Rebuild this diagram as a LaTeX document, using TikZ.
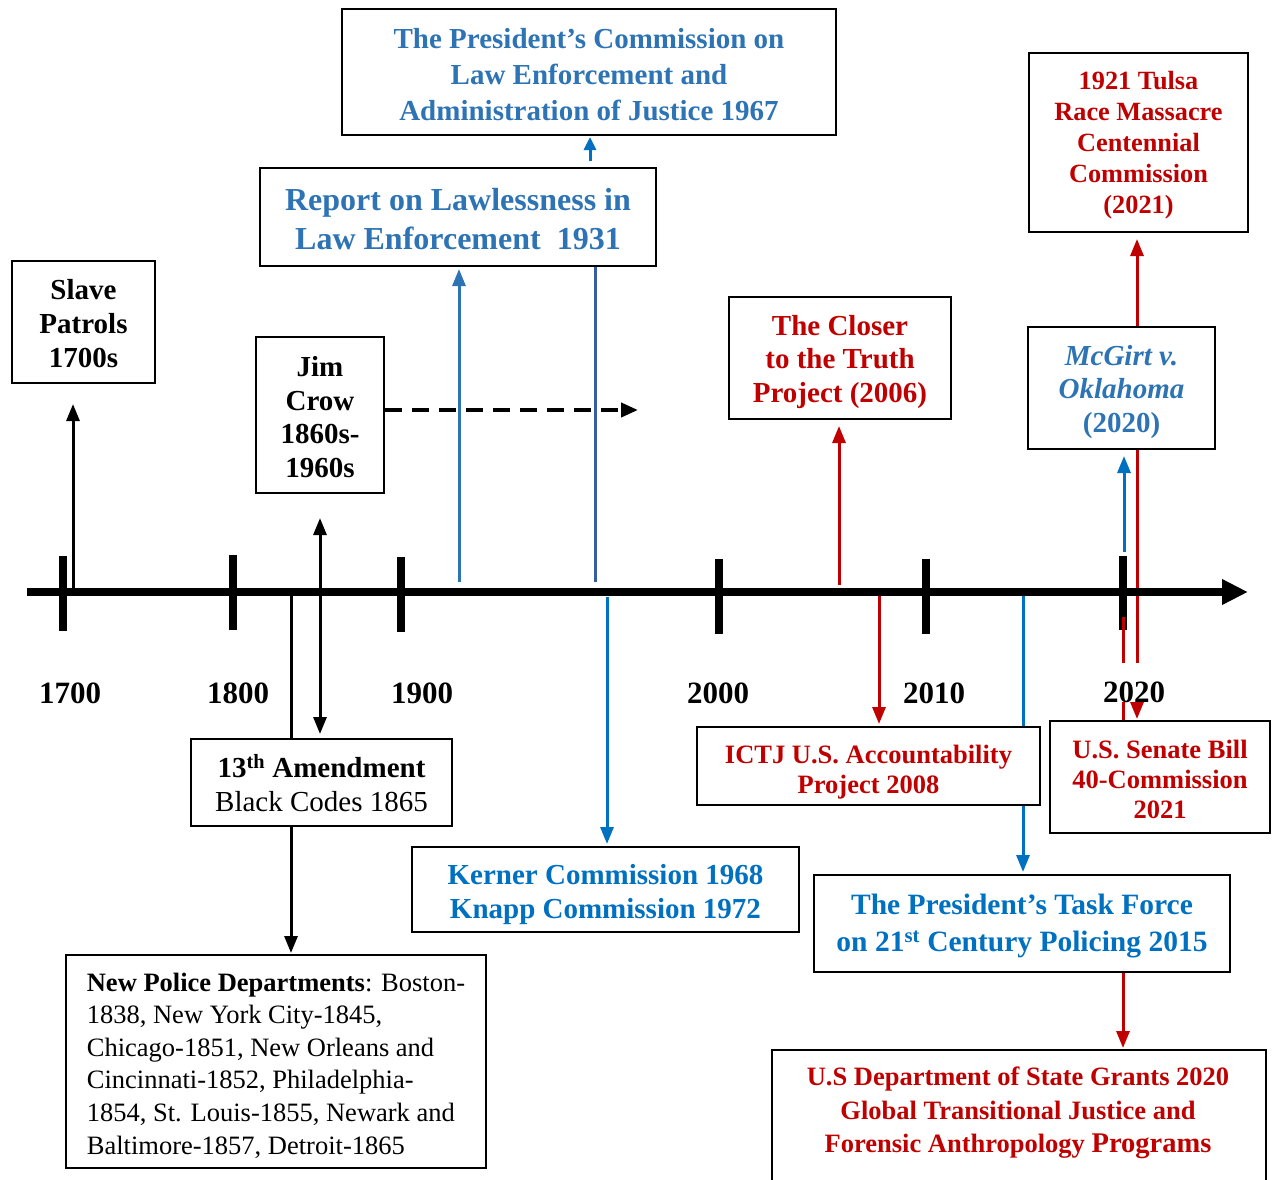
\documentclass[tikz,border=0pt]{standalone}
\usepackage{fontspec}
\setmainfont{Liberation Serif}
\usetikzlibrary{arrows.meta,calc}
\definecolor{blueA}{HTML}{2E74B5}
\definecolor{blueB}{HTML}{0070C0}
\definecolor{blueD}{HTML}{385D9E}
\definecolor{redC}{HTML}{C00000}
\pgfdeclarelayer{ticklayer}
\pgfdeclarelayer{connlayer}
\pgfdeclarelayer{axislayer}
\pgfsetlayers{ticklayer,connlayer,axislayer,main}
\tikzset{
  box/.style={draw=black, line width=2pt, fill=white, inner sep=0pt},
  txt/.style={inner sep=0pt, align=center},
  conn/.style={line width=3pt},
  tipA/.style={-{Triangle[length=17pt,width=13pt]}},
  tipB/.style={{Triangle[length=17pt,width=13pt]}-{Triangle[length=17pt,width=13pt]}},
  tickmark/.style={line width=8pt},
  year/.style={font=\bfseries\fontsize{31}{36}\selectfont, inner sep=0pt, anchor=base},
  f29/.style={font=\bfseries\fontsize{29}{34}\selectfont},
}
\begin{document}
\begin{tikzpicture}[x=1pt,y=-1pt]
\useasboundingbox (0,0) rectangle (1272,1179);

% ---------- boxes ----------
\node[box, minimum width=143pt, minimum height=122pt] (slave) at (83.5,322) {};
\node[txt, f29] (slaveT) at ($(slave.center)+(0,2)$) {Slave\\Patrols\\1700s};

\node[box, minimum width=128pt, minimum height=156pt] (jim) at (320,415) {};
\node[txt, font=\bfseries\fontsize{29}{33.5}\selectfont] (jimT) at ($(jim.center)+(0,2)$) {Jim\\Crow\\1860s-\\1960s};

\node[box, minimum width=396pt, minimum height=98pt] (report) at (458,217) {};
\node[txt, text=blueA, font=\bfseries\fontsize{32}{39}\selectfont] (reportT) at ($(report.center)+(0,2)$) {Report on Lawlessness in\\Law Enforcement\ \ 1931};

\node[box, minimum width=494pt, minimum height=126pt] (comm) at (589,72) {};
\node[txt, text=blueA, font=\bfseries\fontsize{29}{36}\selectfont] (commT) at ($(comm.center)+(0,3)$) {The President’s Commission on\\Law Enforcement and\\Administration of Justice 1967};

\node[box, minimum width=222pt, minimum height=122pt] (closer) at (840,358) {};
\node[txt, text=redC, font=\bfseries\fontsize{29}{33.5}\selectfont] (closerT) at ($(closer.center)+(0,4)$) {The Closer\\to the Truth\\Project (2006)};

\node[box, minimum width=187pt, minimum height=122pt] (mcgirt) at (1121.5,388) {};
\node[txt, text=blueA, font=\bfseries\fontsize{29}{33.5}\selectfont] (mcgirtT) at ($(mcgirt.center)+(0,4)$) {\textit{McGirt v.}\\\textit{Oklahoma}\\(2020)};

\node[box, minimum width=219pt, minimum height=179pt] (tulsa) at (1138.5,142.5) {};
\node[txt, text=redC, font=\bfseries\fontsize{26.3}{31}\selectfont] (tulsaT) at ($(tulsa.center)+(0,3)$) {1921 Tulsa\\Race Massacre\\Centennial\\Commission\\(2021)};

\node[box, minimum width=261pt, minimum height=87pt] (amend) at (321.5,782.5) {};
\node[txt, font=\fontsize{29}{34}\selectfont] (amendT) at ($(amend.center)+(0,1)$) {\textbf{13\textsuperscript{th} Amendment}\\Black Codes 1865};

\node[box, minimum width=420pt, minimum height=213pt] (police) at (276,1061.5) {};
\node[txt, align=left, font=\fontsize{26.5}{32.6}\selectfont] (policeT) at ($(police.center)+(0,4)$) {\textbf{New Police Departments}: Boston-\\1838, New York City-1845,\\Chicago-1851, New Orleans and\\Cincinnati-1852, Philadelphia-\\1854, St. Louis-1855, Newark and\\Baltimore-1857, Detroit-1865};

\node[box, minimum width=387pt, minimum height=85pt] (kerner) at (605.5,889.5) {};
\node[txt, text=blueB, f29] (kernerT) at ($(kerner.center)+(0,5)$) {Kerner Commission 1968\\Knapp Commission 1972};

\node[box, minimum width=343pt, minimum height=78pt] (ictj) at (868.5,766) {};
\node[txt, text=redC, font=\bfseries\fontsize{26.5}{30}\selectfont] (ictjT) at ($(ictj.center)+(0,6)$) {ICTJ U.S. Accountability\\Project 2008};

\node[box, minimum width=220pt, minimum height=112pt] (senate) at (1160,777) {};
\node[txt, text=redC, font=\bfseries\fontsize{26.5}{30}\selectfont] (senateT) at ($(senate.center)+(0,2)$) {U.S. Senate Bill\\40-Commission\\2021};

\node[box, minimum width=416pt, minimum height=97pt] (task) at (1022,923.5) {};
\node[txt, text=blueB, font=\bfseries\fontsize{29.5}{37}\selectfont] (taskT) at ($(task.center)+(0,3)$) {The President’s Task Force\\on 21\textsuperscript{st} Century Policing 2015};

\node[box, minimum width=494pt, minimum height=150pt, anchor=north west] (dept) at (771,1049) {};
\node[txt, text=redC, font=\bfseries\fontsize{26.5}{33.5}\selectfont] (deptT) at (1018,1113) {U.S Department of State Grants 2020\\Global Transitional Justice and\\Forensic Anthropology {\fontsize{28.5}{33.5}\selectfont Programs}};

% ---------- year labels ----------
\node[year] (y1700) at (70,703) {1700};
\node[year] (y1800) at (238,703) {1800};
\node[year] (y1900) at (422,703) {1900};
\node[year] (y2000) at (718,703) {2000};
\node[year] (y2010) at (934,703) {2010};
\node[year, fill=white, text height=39pt, text depth=0pt, inner xsep=1pt] (y2020) at (1134,702) {2020};

% ---------- free ends ----------
\coordinate (axL) at (27,592);
\coordinate (axR) at (1248,592);
\coordinate (cSlave) at (73,590);
\coordinate (cPolice) at (291,596);
\coordinate (cDash) at (638,410);
\coordinate (cRep) at (459,582);
\coordinate (cRepD) at (595,582);
\coordinate (cComm) at (590,0);
\coordinate (cKern) at (607,597);
\coordinate (cClos) at (839,585);
\coordinate (cIctj) at (879,595);
\coordinate (cTask) at (1023,590);
\coordinate (cMcg) at (1124,552);
\coordinate (cRedA) at (1137,0);
\coordinate (cRedB) at (1123,617);

% ---------- ticks ----------
\begin{pgfonlayer}{ticklayer}
\draw[tickmark] (63,556) -- (63,631);
\draw[tickmark] (233,555) -- (233,630);
\draw[tickmark] (401,557) -- (401,632);
\draw[tickmark] (719,559) -- (719,634);
\draw[tickmark] (926,559) -- (926,634);
\draw[tickmark] (1123,556) -- (1123,630);
\end{pgfonlayer}

% ---------- connectors ----------
\begin{pgfonlayer}{connlayer}
\draw[conn, tipA, shorten >=20pt] (cSlave) -- (cSlave |- slave.south);
\draw[conn, tipB, shorten <=24pt, shorten >=4pt] (jim.south) -- (jim.south |- amend.north);
\draw[conn, tipA, shorten >=1pt] (cPolice) -- (cPolice |- police.north);
\draw[line width=4pt, dash pattern=on 17pt off 10pt, -{Triangle[length=17pt,width=14pt]}] (jim.east |- cDash) -- (cDash);
\draw[conn, blueA, tipA, shorten >=2pt] (cRep) -- (cRep |- report.south);
\draw[conn, blueD] (cRepD) -- (cRepD |- report.south);
\draw[conn, blueB, -{Triangle[length=13pt,width=12pt]}, shorten <=6pt, shorten >=1pt] (cComm |- report.north) -- (cComm |- comm.south);
\draw[conn, blueB, tipA, shorten >=2pt] (cKern) -- (cKern |- kerner.north);
\draw[conn, redC, tipA, shorten >=6pt] (cClos) -- (cClos |- closer.south);
\draw[conn, redC, tipA, shorten >=2pt] (cIctj) -- (cIctj |- ictj.north);
\draw[conn, blueB, tipA, shorten >=2pt] (cTask) -- (cTask |- task.north);
\draw[conn, blueB, tipA, shorten >=6pt] (cMcg) -- (cMcg |- mcgirt.south);
\draw[conn, redC, tipB, shorten >=6pt, shorten <=1pt] (cRedA |- senate.north) -- (cRedA |- tulsa.south);
\draw[conn, redC] (cRedB) -- (cRedB |- senate.north);
\draw[conn, redC, tipA, shorten >=1pt] (cRedB |- task.south) -- (cRedB |- dept.north);
\end{pgfonlayer}

% ---------- axis ----------
\begin{pgfonlayer}{axislayer}
\draw[line width=8pt, -{Triangle[length=26pt,width=24pt]}] (axL) -- (axR);
\end{pgfonlayer}
\end{tikzpicture}
\end{document}
